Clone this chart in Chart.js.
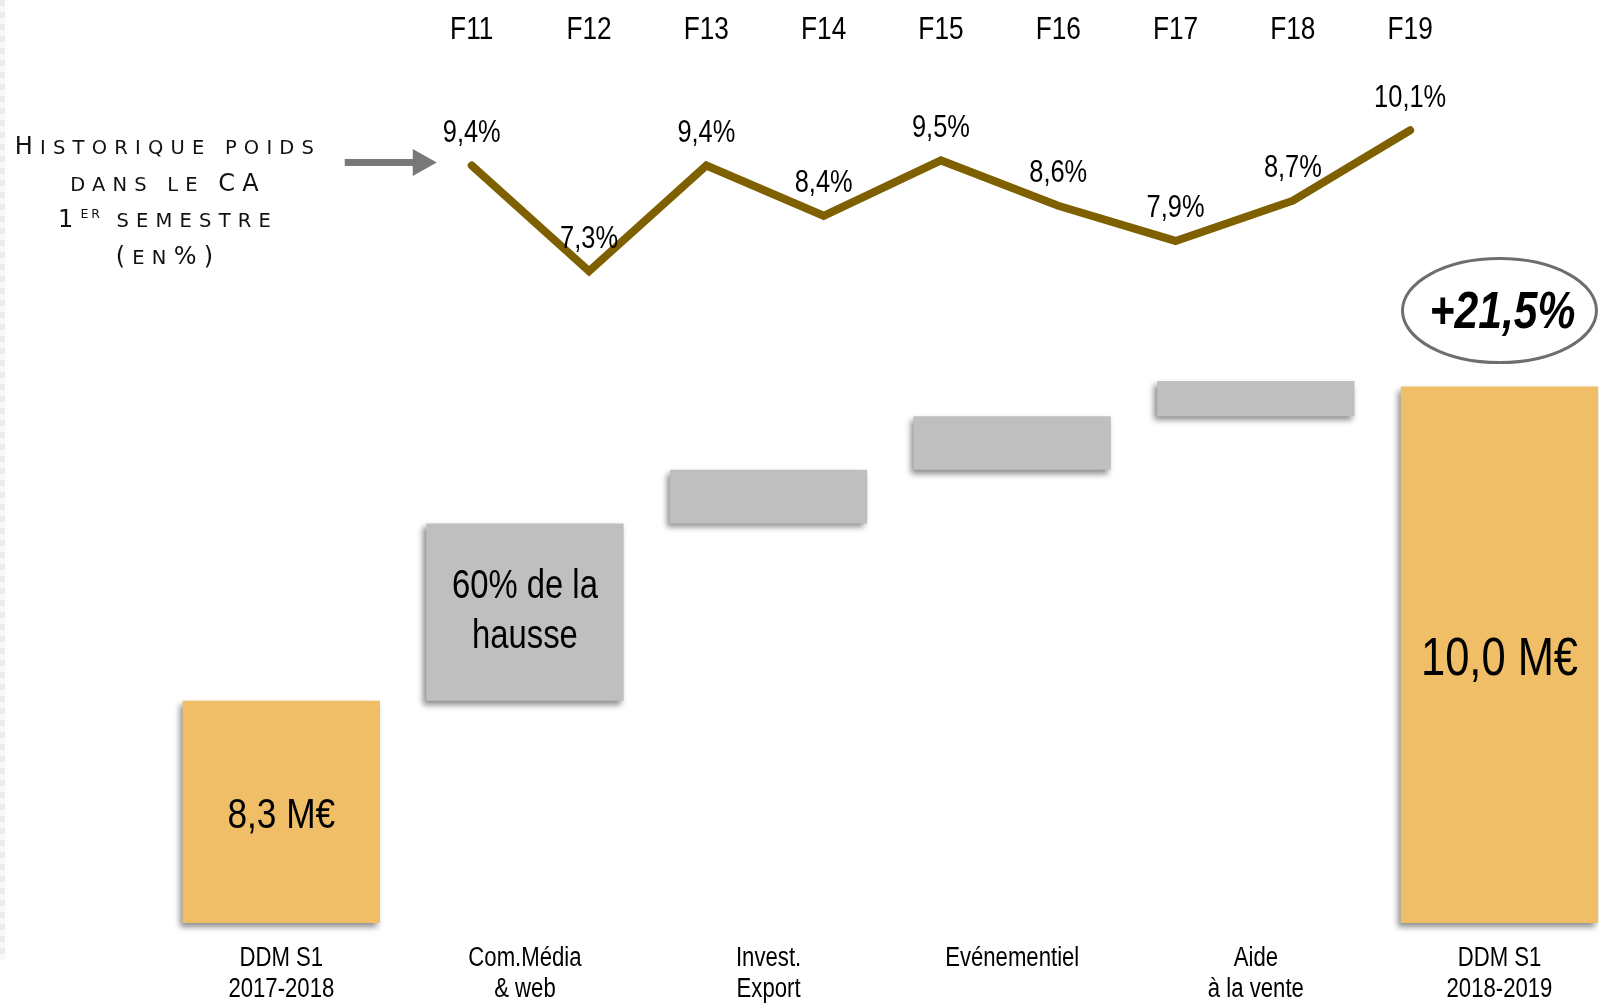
<!DOCTYPE html>
<html>
<head>
<meta charset="utf-8">
<script src="https://cdn.jsdelivr.net/npm/chart.js@4.4.0/dist/chart.umd.min.js"></script>
<style>
  html, body { margin: 0; padding: 0; background: #fff; overflow: hidden; }
  #wrap { position: relative; width: 1599px; height: 1006px; overflow: hidden; }
  #box { position: absolute; left: 0; top: 0; width: 1640px; height: 1006px; }
  #edge { position: absolute; left: 0; top: 0; width: 5px; height: 960px;
          background: repeating-linear-gradient(180deg, #ececec 0 6px, #f8f8f8 6px 12px); }
  #note { position: absolute; left: 8px; top: 129px; width: 320px; text-align: center;
          font-family: 'DejaVu Sans', sans-serif; font-size: 19.5px; text-transform: uppercase;
          letter-spacing: 7.2px; line-height: 34.7px; color: #111; white-space: nowrap; }
  #note .c { font-size: 24px; }
  #note sup { font-size: 12.5px; vertical-align: 0.7em; line-height: 0; letter-spacing: 3px; }
</style>
</head>
<body>
<div id="wrap">
  <div id="box"><canvas id="chart"></canvas></div>
  <div id="edge"></div>
  <div id="note">
    <div><span class="c">H</span>istorique poids</div>
    <div>dans le <span class="c">CA</span></div>
    <div><span class="c">1</span><sup>er</sup> semestre</div>
    <div><span class="c">(</span>en<span class="c">%)</span></div>
  </div>
</div>
<script>
// waterfall (M€)
const categories = [['DDM S1', '2017-2018'], ['Com.Média', '& web'], ['Invest.', 'Export'], ['Evénementiel'], ['Aide', 'à la vente'], ['DDM S1', '2018-2019']];
const totals = [8.3, null, null, null, null, 10.0];
const steps = [null, 0.96, 0.29, 0.29, 0.19, null];
const barTexts = ['8,3 M€', '60% de la\nhausse', '', '', '', '10,0 M€'];
const growthText = '+21,5%';

// poids dans le CA, 1er semestre (%)
const years = ['F11', 'F12', 'F13', 'F14', 'F15', 'F16', 'F17', 'F18', 'F19'];
const weights = [9.4, 7.3, 9.4, 8.4, 9.5, 8.6, 7.9, 8.7, 10.1];

const yMin = 7.098;

let run = totals[0];
const stepRanges = steps.map(s => {
    if (s == null) return null;
    const r = [run, run + s];
    run += s;
    return r;
});

// no condensed face installed: squeeze Liberation Sans like Arial Narrow
function narrowText(ctx, text, x, y, size, style = '') {
    ctx.save();
    ctx.translate(x, y);
    ctx.scale(0.82, 1);
    ctx.font = `${style} ${size}px 'Liberation Sans', Arial, sans-serif`;
    ctx.fillText(text, 0, 0);
    ctx.restore();
}

const shadow = {
    id: 'shadow',
    beforeDatasetDraw(chart, args) {
        if (args.meta.type !== 'bar') return;
        const ctx = chart.ctx;
        ctx.save();
        ctx.shadowColor = 'rgba(0,0,0,0.45)';
        ctx.shadowBlur = 6;
        ctx.shadowOffsetX = -3;
        ctx.shadowOffsetY = 4;
    },
    afterDatasetDraw(chart, args) {
        if (args.meta.type !== 'bar') return;
        chart.ctx.restore();
    }
};

const labels = {
    id: 'labels',
    afterDatasetsDraw(chart) {
        const ctx = chart.ctx;
        const area = chart.chartArea;
        ctx.save();
        ctx.textAlign = 'center';
        ctx.textBaseline = 'middle';
        ctx.fillStyle = '#000';

        // axis labels
        const xs = chart.scales.x;
        categories.forEach((rows, i) => {
            const x = xs.getPixelForValue(i);
            rows.forEach((t, k) => narrowText(ctx, t, x, area.bottom + 35.8 + k * 30.6, 27));
        });
        const x2 = chart.scales.x2;
        years.forEach((t, i) => narrowText(ctx, t, x2.getPixelForValue(i), 30.5, 32));

        // values over the line
        const line = chart.getDatasetMeta(2);
        line.data.forEach((pt, i) => {
            narrowText(ctx, weights[i].toFixed(1).replace('.', ',') + '%', pt.x, pt.y - 32, 31);
        });

        // arrow pointing at the line
        const p0 = line.data[0];
        const ay = p0.y - 3;
        ctx.fillStyle = '#787878';
        ctx.fillRect(p0.x - 127, ay - 3.5, 70, 7);
        ctx.beginPath();
        ctx.moveTo(p0.x - 59, ay - 13.5);
        ctx.lineTo(p0.x - 35, ay);
        ctx.lineTo(p0.x - 59, ay + 13.5);
        ctx.closePath();
        ctx.fill();

        // texts inside the bars
        const sizes = [43, 40, 0, 0, 0, 53];
        ctx.fillStyle = '#000';
        barTexts.forEach((text, i) => {
            if (!text) return;
            const isTotal = totals[i] != null;
            const el = chart.getDatasetMeta(isTotal ? 0 : 1).data[i];
            const cy = (el.y + Math.min(el.base, area.bottom)) / 2 + (isTotal ? sizes[i] * 0.1 : 0);
            const rows = text.split('\n');
            const lh = sizes[i] * 1.25;
            rows.forEach((t, k) => narrowText(ctx, t, el.x, cy + (k - (rows.length - 1) / 2) * lh, sizes[i]));
        });

        // growth bubble
        const last = chart.getDatasetMeta(0).data[5];
        const ex = last.x, ey = last.y - 76;
        ctx.beginPath();
        ctx.ellipse(ex, ey, 97, 52, 0, 0, Math.PI * 2);
        ctx.fillStyle = '#fff';
        ctx.fill();
        ctx.lineWidth = 3;
        ctx.strokeStyle = '#6e6e6e';
        ctx.stroke();
        ctx.fillStyle = '#000';
        narrowText(ctx, growthText, ex + 3, ey + 3, 52, 'italic bold');

        ctx.restore();
    }
};

new Chart(document.getElementById('chart'), {
    data: {
        labels: categories,
        datasets: [{
            type: 'bar',
            label: 'DDM S1',
            data: totals,
            base: yMin,
            clip: false,
            backgroundColor: '#EFBE66',
            grouped: false,
            categoryPercentage: 1,
            barPercentage: 0.81
        }, {
            type: 'bar',
            label: 'Hausse',
            data: stepRanges,
            backgroundColor: '#BFBFBF',
            grouped: false,
            categoryPercentage: 1,
            barPercentage: 0.81
        }, {
            type: 'line',
            label: 'Poids',
            data: weights.map((v, i) => ({ x: i, y: v })),
            xAxisID: 'x2',
            yAxisID: 'y2',
            borderColor: '#7F6000',
            borderWidth: 8,
            borderCapStyle: 'round',
            borderJoinStyle: 'miter',
            pointRadius: 0,
            tension: 0
        }]
    },
    options: {
        responsive: true,
        maintainAspectRatio: false,
        animation: false,
        layout: { padding: { left: 159.5, right: 18.7, top: 0, bottom: 0 } },
        plugins: { legend: { display: false }, tooltip: { enabled: false } },
        scales: {
            x: {
                position: 'bottom',
                grid: { display: false },
                border: { display: false },
                ticks: { display: false },
                afterFit(scale) { scale.height = 83; }
            },
            y: {
                display: false,
                min: yMin,
                max: 11.767
            },
            x2: {
                type: 'linear',
                position: 'top',
                min: -2.662,
                max: 9.8,
                grid: { display: false },
                border: { display: false },
                ticks: { display: false },
                afterFit(scale) { scale.height = 60; }
            },
            y2: {
                display: false,
                min: -5.66,
                max: 11.497
            }
        }
    },
    plugins: [shadow, labels]
});
</script>
</body>
</html>
